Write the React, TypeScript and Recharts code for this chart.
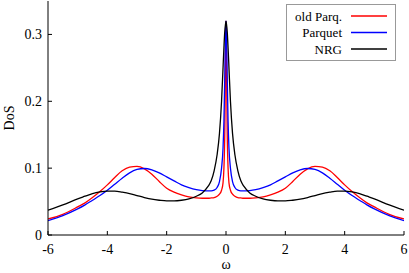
import React from 'react';
import { LineChart, Line, XAxis, YAxis } from 'recharts';

// frequency grid (dense near the central peak)
const omega = [
  -6, -5.5, -5, -4.75, -4.5, -4.25, -4, -3.75, -3.5, -3.25, -3, -2.75, -2.5, -2.25, -2, -1.75, -1.5, -1.25, -1, -0.8, -0.6, -0.5, -0.4, -0.3, -0.22, -0.15, -0.1, -0.07, -0.04, -0.02, -0.01,
  0,
  0.01, 0.02, 0.04, 0.07, 0.1, 0.15, 0.22, 0.3, 0.4, 0.5, 0.6, 0.8, 1, 1.25, 1.5, 1.75, 2, 2.25, 2.5, 2.75, 3, 3.25, 3.5, 3.75, 4, 4.25, 4.5, 4.75, 5, 5.5, 6,
];

const oldParq = [
  0.024, 0.031, 0.042, 0.048, 0.056, 0.065, 0.075, 0.086, 0.096, 0.1015, 0.1025, 0.099, 0.091, 0.08, 0.07, 0.064, 0.06, 0.057, 0.0555, 0.055, 0.055, 0.0555, 0.056, 0.058, 0.061, 0.067, 0.078, 0.1, 0.155, 0.24, 0.295,
  0.32,
  0.295, 0.24, 0.155, 0.1, 0.078, 0.067, 0.061, 0.058, 0.056, 0.0555, 0.055, 0.055, 0.0555, 0.057, 0.06, 0.064, 0.07, 0.08, 0.091, 0.099, 0.1025, 0.1015, 0.096, 0.086, 0.075, 0.065, 0.056, 0.048, 0.042, 0.031, 0.024,
];

const parquet = [
  0.0215, 0.029, 0.039, 0.045, 0.052, 0.059, 0.067, 0.076, 0.085, 0.093, 0.098, 0.0995, 0.0975, 0.093, 0.087, 0.081, 0.075, 0.071, 0.068, 0.0665, 0.066, 0.066, 0.067, 0.071, 0.08, 0.1, 0.13, 0.17, 0.24, 0.29, 0.305,
  0.32,
  0.305, 0.29, 0.24, 0.17, 0.13, 0.1, 0.08, 0.071, 0.067, 0.066, 0.066, 0.0665, 0.068, 0.071, 0.075, 0.081, 0.087, 0.093, 0.0975, 0.0995, 0.098, 0.093, 0.085, 0.076, 0.067, 0.059, 0.052, 0.045, 0.039, 0.029, 0.0215,
];

const nrg = [
  0.037, 0.045, 0.054, 0.058, 0.062, 0.0645, 0.0657, 0.0655, 0.064, 0.062, 0.059, 0.056, 0.0535, 0.052, 0.051, 0.051, 0.052, 0.054, 0.058, 0.063, 0.073, 0.081, 0.096, 0.12, 0.152, 0.2, 0.25, 0.28, 0.305, 0.314, 0.317,
  0.32,
  0.317, 0.314, 0.305, 0.28, 0.25, 0.2, 0.152, 0.12, 0.096, 0.081, 0.073, 0.063, 0.058, 0.054, 0.052, 0.051, 0.051, 0.052, 0.0535, 0.056, 0.059, 0.062, 0.064, 0.0655, 0.0657, 0.0645, 0.062, 0.058, 0.054, 0.045, 0.037,
];

const xTicks = [-6, -4, -2, 0, 2, 4, 6];
const yTicks = [0, 0.1, 0.2, 0.3];

const series = [
  { key: 'oldParq', name: 'old Parq.', color: '#ff0000' },
  { key: 'parquet', name: 'Parquet', color: '#0000ff' },
  { key: 'nrg', name: 'NRG', color: '#000000' },
];

const rows = omega.map((w, i) => ({ w, oldParq: oldParq[i], parquet: parquet[i], nrg: nrg[i] }));

const font = '"Liberation Serif", "DejaVu Serif", serif';
const txt = { fontSize: 14, fontFamily: font, fill: '#000' };

const XTick = (p: any) => (
  <text x={p.x} y={p.y} dy="0.71em" textAnchor="middle" style={txt}>{String(p.payload.value)}</text>
);
const YTick = (p: any) => (
  <text x={p.x} y={p.y} dy="0.355em" textAnchor="end" style={txt}>{String(p.payload.value)}</text>
);

export default function App() {
  return (
    <div style={{ position: 'absolute', left: 0, top: 0, width: 409, height: 273, background: '#fff', fontFamily: font }}>
      <LineChart width={409} height={273} data={rows} margin={{ top: 1, right: 5, bottom: 0, left: 0 }}>
        <XAxis
          dataKey="w"
          type="number"
          domain={[-6, 6]}
          ticks={xTicks}
          allowDataOverflow
          height={38}
          tickSize={-4}
          tickMargin={13}
          stroke="#000"
          tick={XTick}
          label={{ value: 'ω', position: 'insideBottom', offset: 4, style: txt }}
        />
        <XAxis
          xAxisId="top"
          orientation="top"
          dataKey="w"
          type="number"
          domain={[-6, 6]}
          ticks={xTicks}
          height={0}
          tickSize={-4}
          stroke="#000"
          tickFormatter={() => ''}
        />
        <YAxis
          type="number"
          domain={[0, 0.35]}
          ticks={yTicks}
          allowDataOverflow
          width={48}
          tickSize={-4}
          tickMargin={10}
          stroke="#000"
          tick={YTick}
          label={{
            content: () => (
              <text x={9} y={118} transform="rotate(-90 9 118)" textAnchor="middle" dominantBaseline="central" style={txt}>DoS</text>
            ),
          }}
        />
        <YAxis
          yAxisId="right"
          orientation="right"
          type="number"
          domain={[0, 0.35]}
          ticks={yTicks}
          width={0}
          tickSize={-4}
          stroke="#000"
          tickFormatter={() => ''}
        />
        {series.map((s) => (
          <Line
            key={s.key}
            type="monotone"
            dataKey={s.key}
            name={s.name}
            stroke={s.color}
            strokeWidth={1.3}
            dot={false}
            isAnimationActive={false}
          />
        ))}
      </LineChart>
      <svg width={409} height={273} style={{ position: 'absolute', left: 0, top: 0, pointerEvents: 'none' }}>
        <rect x={286.5} y={4.5} width={109} height={56} fill="none" stroke="#999" strokeWidth={1} />
        {series.map((s, i) => (
          <g key={s.key}>
            <text x={342} y={16 + i * 16.5} textAnchor="end" dominantBaseline="central"
              style={{ fontSize: 13, fontFamily: font, fill: '#000' }}>{s.name}</text>
            <line x1={351} x2={387} y1={16 + i * 16.5} y2={16 + i * 16.5} stroke={s.color} strokeWidth={1.3} />
          </g>
        ))}
      </svg>
    </div>
  );
}
